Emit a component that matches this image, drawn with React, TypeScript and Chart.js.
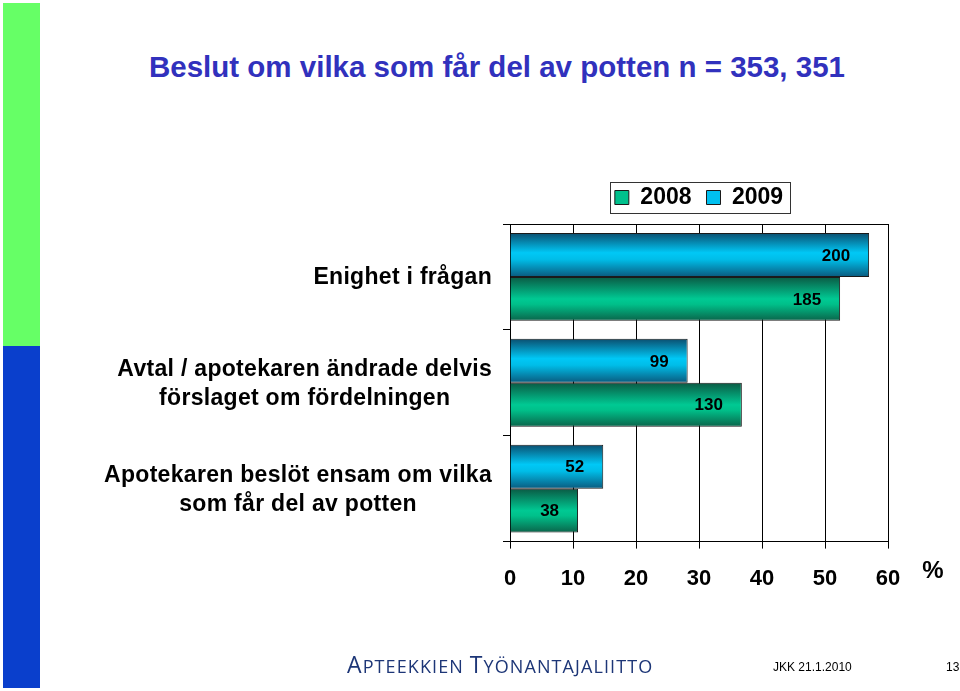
import React, { useEffect, useRef } from "react";
import { Chart, registerables } from "chart.js";

Chart.register(...registerables);

const categories: string[][] = [
  ["Enighet i frågan"],
  ["Avtal / apotekaren ändrade delvis", "förslaget om fördelningen"],
  ["Apotekaren beslöt ensam om vilka", "som får del av potten"],
];
const series2008Label = "2008";
const series2009Label = "2009";
const pct2008 = [52.4, 36.8, 10.8];
const pct2009 = [57.0, 28.2, 14.8];
const counts2008 = [185, 130, 38];
const counts2009 = [200, 99, 52];
const xMin = 0;
const xMax = 60;
const xStep = 10;

const FONT = "Arial, 'Liberation Sans', Helvetica, sans-serif";

const gradientStops: Record<string, [number, string][]> = {
  "2009": [
    [0, "#0b4f70"],
    [0.45, "#00c8f6"],
    [0.6, "#00bde8"],
    [1, "#0a5a7e"],
  ],
  "2008": [
    [0, "#0a5a44"],
    [0.5, "#00c993"],
    [0.62, "#00c08a"],
    [1, "#0a644a"],
  ],
};

const barGradientPlugin = {
  id: "barGradient",
  beforeDatasetsDraw(chart: any) {
    const ctx = chart.ctx;
    chart.data.datasets.forEach((ds: any, di: number) => {
      const meta = chart.getDatasetMeta(di);
      const stops = gradientStops[ds.label];
      meta.data.forEach((el: any) => {
        const top = el.y - el.height / 2;
        const g = ctx.createLinearGradient(0, top, 0, top + el.height);
        stops.forEach(([o, c]) => g.addColorStop(o, c));
        el.options = Object.assign({}, el.options, { backgroundColor: g });
      });
    });
  },
};

const valueLabelPlugin = {
  id: "valueLabels",
  afterDatasetsDraw(chart: any) {
    const ctx = chart.ctx;
    ctx.save();
    ctx.font = `bold 17px ${FONT}`;
    ctx.fillStyle = "#000";
    ctx.textAlign = "right";
    ctx.textBaseline = "middle";
    chart.data.datasets.forEach((ds: any, di: number) => {
      const meta = chart.getDatasetMeta(di);
      meta.data.forEach((el: any, i: number) => {
        ctx.fillText(String(ds.counts[i]), el.x - 19, el.y + 1);
      });
    });
    ctx.restore();
  },
};

const decorPlugin = {
  id: "decor",
  afterDraw(chart: any) {
    const ctx = chart.ctx;
    const area = chart.chartArea;
    const yScale = chart.scales.y;
    ctx.save();
    // top border of plot
    ctx.strokeStyle = "#000";
    ctx.lineWidth = 1;
    ctx.beginPath();
    ctx.moveTo(area.left, Math.round(area.top) + 0.5);
    ctx.lineTo(area.right, Math.round(area.top) + 0.5);
    ctx.stroke();

    // category labels: block right-aligned, lines centred
    ctx.font = `bold 23px ${FONT}`;
    (ctx as any).letterSpacing = "0.3px";
    ctx.fillStyle = "#000";
    ctx.textAlign = "center";
    ctx.textBaseline = "middle";
    const right = area.left - 18;
    const lineH = 29;
    categories.forEach((lines, i) => {
      const cy = yScale.getPixelForValue(i);
      const maxW = Math.max(...lines.map((l) => ctx.measureText(l).width));
      const cx = right - maxW / 2;
      lines.forEach((l, j) => {
        ctx.fillText(l, cx, cy + (j - (lines.length - 1) / 2) * lineH + 1);
      });
    });
    (ctx as any).letterSpacing = "0px";

    // percent sign after the x axis
    const xScale = chart.scales.x;
    ctx.font = `bold 24px ${FONT}`;
    ctx.textAlign = "center";
    ctx.fillText("%", xScale.right + 45, xScale.top + 30);

    // legend frame
    const legend = chart.legend;
    if (legend && legend.legendHitBoxes && legend.legendHitBoxes.length) {
      const hb = legend.legendHitBoxes;
      const l = Math.min(...hb.map((h: any) => h.left));
      const r = Math.max(...hb.map((h: any) => h.left + h.width));
      const t = Math.min(...hb.map((h: any) => h.top));
      const b = Math.max(...hb.map((h: any) => h.top + h.height));
      ctx.strokeStyle = "#333";
      ctx.lineWidth = 1;
      ctx.strokeRect(Math.round(l - 5) + 0.5, Math.round(t - 4) + 0.5, Math.round(r - l + 12), Math.round(b - t + 8));
    }
    ctx.restore();
  },
};

function BarChart() {
  const ref = useRef<HTMLCanvasElement | null>(null);
  useEffect(() => {
    if (!ref.current) return;
    const chart = new Chart(ref.current, {
      type: "bar",
      data: {
        labels: categories.map((c) => c.join(" ")),
        datasets: [
          {
            label: series2009Label,
            data: pct2009,
            counts: counts2009,
            backgroundColor: "#00c0f0",
            borderColor: "#1a1a1a",
            borderWidth: 1,
            categoryPercentage: 0.83,
            barPercentage: 1,
          } as any,
          {
            label: series2008Label,
            data: pct2008,
            counts: counts2008,
            backgroundColor: "#00c08c",
            borderColor: "#1a1a1a",
            borderWidth: 1,
            categoryPercentage: 0.83,
            barPercentage: 1,
          } as any,
        ],
      },
      options: {
        indexAxis: "y",
        responsive: false,
        animation: false,
        devicePixelRatio: 1,
        layout: { padding: { left: 503, right: 72, top: 171, bottom: 82 } },
        scales: {
          x: {
            min: xMin,
            max: xMax,
            ticks: {
              stepSize: xStep,
              color: "#000",
              font: { family: FONT, size: 22, weight: "bold" },
              padding: 17,
            },
            grid: { color: "#000", lineWidth: 1, tickLength: 7 },
            border: { color: "#000", width: 1 },
          },
          xGap: {
            position: "top",
            display: true,
            ticks: { display: false },
            grid: { display: false, drawTicks: false },
            border: { display: false },
            afterFit: (s: any) => {
              s.height = 5;
            },
          },
          y: {
            ticks: { display: false },
            grid: { drawOnChartArea: false, color: "#000", lineWidth: 1, tickLength: 7, offset: true },
            border: { color: "#000", width: 1 },
          },
        },
        plugins: {
          legend: {
            position: "top",
            fullSize: false,
            reverse: true,
            align: "center",
            labels: {
              boxWidth: 14,
              boxHeight: 14,
              color: "#000",
              padding: 15,
              font: { family: FONT, size: 23, weight: "bold" },
            },
          },
          tooltip: { enabled: false },
          title: { display: false },
        },
      } as any,
      plugins: [barGradientPlugin, valueLabelPlugin, decorPlugin],
    });
    return () => chart.destroy();
  }, []);
  return <canvas ref={ref} width={960} height={691} style={{ position: "absolute", left: 0, top: 0 }} />;
}

const logoBig = { fontSize: 23 };
const logoSmall = { fontSize: 18 };

export default function App() {
  return (
    <div style={{ position: "absolute", left: 0, top: 0, width: 960, height: 691, background: "#fff", overflow: "hidden" }}>
      <div style={{ position: "absolute", left: 3, top: 3, width: 37, height: 343, background: "#66ff66" }} />
      <div style={{ position: "absolute", left: 3, top: 346, width: 37, height: 342, background: "#0a3fcc" }} />
      <div
        style={{
          position: "absolute",
          left: 0,
          width: 994,
          top: 50,
          textAlign: "center",
          font: `bold 29.5px ${FONT}`,
          color: "#3131bd",
          whiteSpace: "nowrap",
        }}
      >
        Beslut om vilka som får del av potten n = 353, 351
      </div>
      <BarChart />
      <div
        style={{
          position: "absolute",
          left: 347,
          top: 650,
          fontFamily: "'Open Sans', 'DejaVu Sans', sans-serif",
          color: "#1d3677",
          whiteSpace: "nowrap",
          letterSpacing: "1.1px",
          lineHeight: "28px",
        }}
      >
        <span style={logoBig}>A</span>
        <span style={logoSmall}>PTEEKKIEN </span>
        <span style={logoBig}>T</span>
        <span style={logoSmall}>YÖNANTAJALIITTO</span>
      </div>
      <div style={{ position: "absolute", left: 773, top: 660, font: `12px ${FONT}`, color: "#000", whiteSpace: "nowrap" }}>
        JKK 21.1.2010
      </div>
      <div style={{ position: "absolute", left: 946, top: 660, font: `12px ${FONT}`, color: "#000", whiteSpace: "nowrap" }}>
        13
      </div>
    </div>
  );
}
